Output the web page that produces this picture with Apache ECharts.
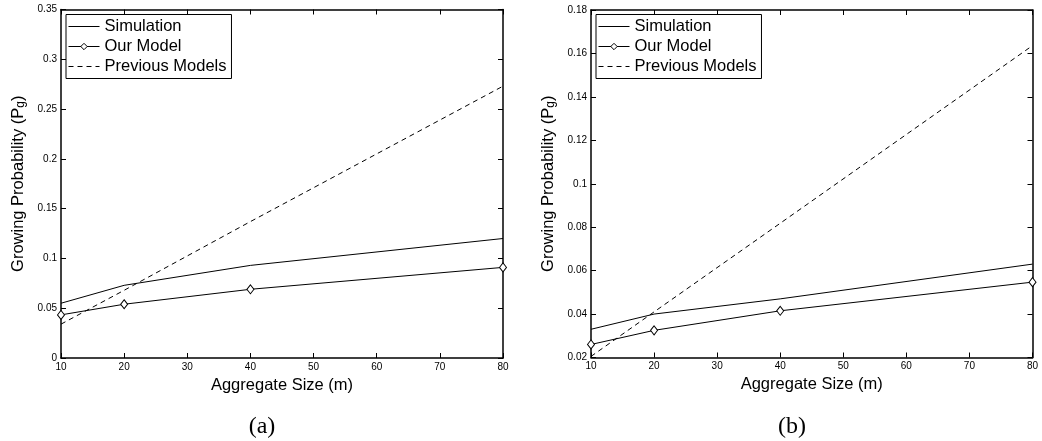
<!DOCTYPE html>
<html>
<head>
<meta charset="utf-8">
<script src="https://cdn.jsdelivr.net/npm/echarts@6/dist/echarts.min.js"></script>
<style>
html,body{margin:0;padding:0;background:#fff;}
#chart{width:1042px;height:441px;}
</style>
</head>
<body>
<div id="chart"></div>
<script>
// ---- data ----
const sizes = [10, 20, 40, 80];
const seriesNames = ['Simulation', 'Our Model', 'Previous Models'];
// panel (a)
const simA = [0.055, 0.073, 0.093, 0.120];
const modelA = [0.0433, 0.054, 0.069, 0.091];
const prevA = [0.034, 0.068, 0.137, 0.273];
// panel (b)
const simB = [0.033, 0.040, 0.047, 0.063];
const modelB = [0.026, 0.0325, 0.0415, 0.0547];
const prevB = [0.0205, 0.041, 0.0818, 0.1636];
const xLabelName = 'Aggregate Size (m)';
const panelLabels = ['(a)', '(b)'];

const FONT = 'Liberation Sans, Arial, sans-serif';
const pairs = (ys) => sizes.map((x, i) => [x, ys[i]]);

const chart = echarts.init(document.getElementById('chart'), null, {renderer: 'canvas'});

const grids = [
  {left: 61, right: 539, top: 9.5, bottom: 83},
  {left: 591, right: 9.5, top: 10, bottom: 83.5}
];

function xAxes(gi) {
  const base = {
    type: 'value', gridIndex: gi, min: 10, max: 80, interval: 10,
    axisLine: {show: true, onZero: false, lineStyle: {color: '#000', width: 1.5}},
    axisTick: {show: true, inside: true, length: 5, lineStyle: {color: '#000', width: 1}},
    splitLine: {show: false}
  };
  return [
    Object.assign({}, base, {
      position: 'bottom',
      axisLabel: {color: '#000', fontSize: 10, fontFamily: FONT, margin: 4},
      name: xLabelName, nameLocation: 'middle', nameGap: 13,
      nameTextStyle: {color: '#000', fontSize: 16.5, fontFamily: FONT}
    }),
    Object.assign({}, base, {position: 'top', axisLabel: {show: false}})
  ];
}

function yAxes(gi, min, max, interval) {
  const base = {
    type: 'value', gridIndex: gi, min: min, max: max, interval: interval,
    axisLine: {show: true, onZero: false, lineStyle: {color: '#000', width: 1.5}},
    axisTick: {show: true, inside: true, length: 5, lineStyle: {color: '#000', width: 1}},
    splitLine: {show: false}
  };
  return [
    Object.assign({}, base, {
      position: 'left',
      axisLabel: {color: '#000', fontSize: 10, fontFamily: FONT, margin: 4,
        formatter: v => String(+v.toFixed(4))},
      name: '{a|Growing Probability (P}{s|g}{a|)}',
      nameLocation: 'middle', nameGap: 34, nameRotate: 90,
      nameTextStyle: {
        color: '#000', fontFamily: FONT,
        rich: {
          a: {fontSize: 16.5, fontFamily: FONT, color: '#000'},
          s: {fontSize: 12, fontFamily: FONT, color: '#000', verticalAlign: 'bottom', lineHeight: 11}
        }
      }
    }),
    Object.assign({}, base, {position: 'right', axisLabel: {show: false}})
  ];
}

function makeSeries(xi, yi, sim, model, prev) {
  return [
    {name: seriesNames[0], type: 'line', xAxisIndex: xi, yAxisIndex: yi, data: pairs(sim),
     symbol: 'none', lineStyle: {color: '#000', width: 1}, itemStyle: {color: '#000'}, silent: true},
    {name: seriesNames[1], type: 'line', xAxisIndex: xi, yAxisIndex: yi, data: pairs(model),
     symbol: 'diamond', symbolSize: [7, 9], showSymbol: true,
     lineStyle: {color: '#000', width: 1},
     itemStyle: {color: '#fff', borderColor: '#000', borderWidth: 1}, silent: true},
    {name: seriesNames[2], type: 'line', xAxisIndex: xi, yAxisIndex: yi, data: pairs(prev),
     symbol: 'none', lineStyle: {color: '#000', width: 1, type: [5, 4]}, itemStyle: {color: '#000'}, silent: true}
  ];
}

const hiddenSym = {opacity: 0, color: 'rgba(0,0,0,0)', borderColor: 'rgba(0,0,0,0)'};
function legend(left, top) {
  return {
    orient: 'vertical', left: left, top: top,
    data: [
      {name: seriesNames[0], itemStyle: hiddenSym, lineStyle: {width: 1}},
      {name: seriesNames[1], lineStyle: {width: 1}, itemStyle: {borderWidth: 1}},
      {name: seriesNames[2], itemStyle: hiddenSym, lineStyle: {width: 1, type: [5, 4]}}
    ],
    backgroundColor: '#fff', borderColor: '#000', borderWidth: 1,
    padding: [3.5, 5, 3.5, 2], itemGap: 3, itemWidth: 31, itemHeight: 8,
    textStyle: {color: '#000', fontSize: 16.5, fontFamily: FONT},
    selectedMode: false
  };
}

const serifFont = '24px "Liberation Serif", "Times New Roman", serif';
const option = {
  animation: false,
  backgroundColor: '#fff',
  grid: grids,
  xAxis: [...xAxes(0), ...xAxes(1)],
  yAxis: [...yAxes(0, 0, 0.35, 0.05), ...yAxes(1, 0.02, 0.18, 0.02)],
  legend: [legend(66, 14.5), legend(596, 14.5)],
  series: [...makeSeries(0, 0, simA, modelA, prevA), ...makeSeries(2, 2, simB, modelB, prevB)],
  graphic: [
    {type: 'text', x: 262, y: 427, style: {text: panelLabels[0], fill: '#000', font: serifFont, textAlign: 'center', textVerticalAlign: 'middle'}},
    {type: 'text', x: 792, y: 427, style: {text: panelLabels[1], fill: '#000', font: serifFont, textAlign: 'center', textVerticalAlign: 'middle'}}
  ]
};
chart.setOption(option);
</script>
</body>
</html>
